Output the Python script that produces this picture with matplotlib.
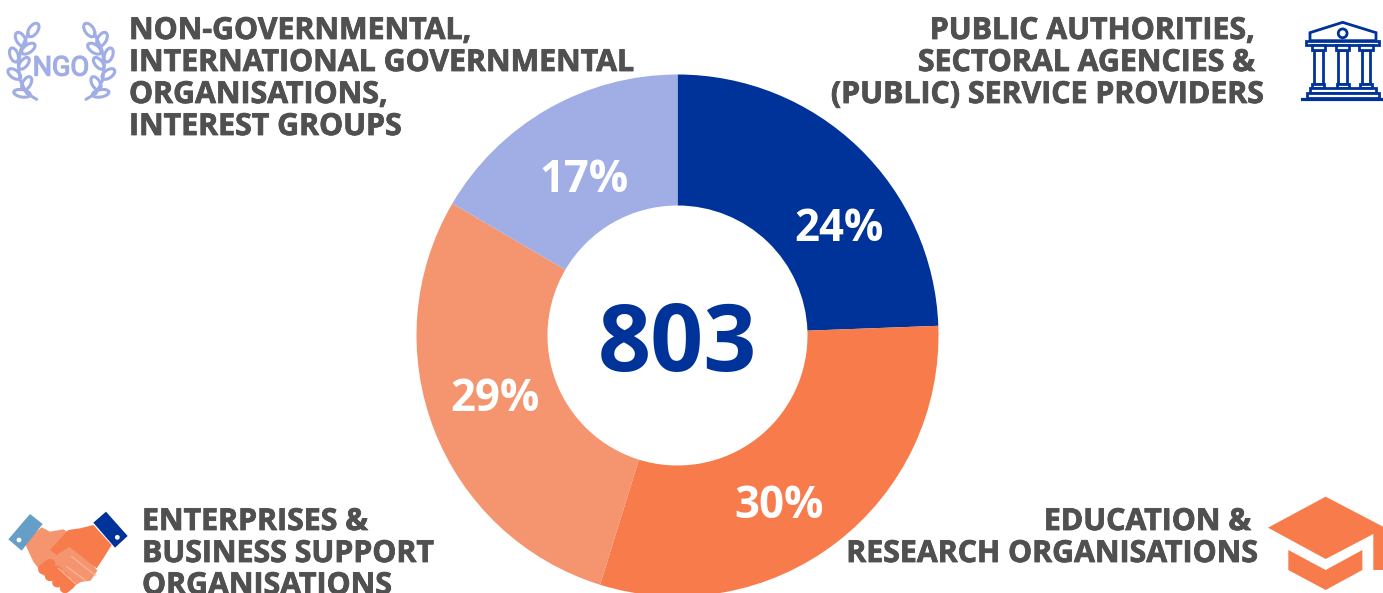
import matplotlib
matplotlib.use("Agg")
import matplotlib.pyplot as plt
import matplotlib.patheffects as pe
from matplotlib.patches import Polygon, Circle, Ellipse

# ---- data ----
slice_names = ["Public authorities", "Education & research", "Enterprises", "NGO"]
slice_values = [196, 244, 230, 133]
slice_labels = ["24%", "30%", "29%", "17%"]
total_label = "803"
colors = ["#003399", "#F77B4B", "#F5956F", "#A0AEE5"]

W, H = 1383, 593
NAVY, ORANGE, LORANGE, PERI = colors
GREY = "#505050"
FONT = "Open Sans"

fig = plt.figure(figsize=(W / 100, H / 100), dpi=100, facecolor="white")

# donut
cx, cy, R = 677.5, 335.5, 261
pie_ax = fig.add_axes([(cx - R) / W, 1 - (cy + R) / H, 2 * R / W, 2 * R / H])
pie_ax.pie(slice_values, colors=colors, startangle=90, counterclock=False, radius=1,
           wedgeprops=dict(width=131 / 261, linewidth=0))
pie_ax.set_xlim(-1, 1)
pie_ax.set_ylim(-1, 1)
pie_ax.axis("off")

# overlay in pixel coordinates
ax = fig.add_axes([0, 0, 1, 1], zorder=5)
ax.set_xlim(0, W)
ax.set_ylim(H, 0)
ax.axis("off")
ax.patch.set_alpha(0)

# centre + percentages
ax.text(677, 335, total_label, ha="center", va="center_baseline", color=NAVY,
        fontsize=67, family=FONT, fontweight="bold")
label_xy = [(839, 224), (779, 501), (495, 394), (584, 175)]
for (x, y), s in zip(label_xy, slice_labels):
    ax.text(x, y, s, ha="center", va="center_baseline", color="white", fontsize=31.5,
            family=FONT, fontweight="bold")

# category text (line, x, baseline, align)
lines = [
    ("NON-GOVERNMENTAL,", 129, 39, "left"),
    ("INTERNATIONAL GOVERNMENTAL", 129, 71, "left"),
    ("ORGANISATIONS,", 129, 103, "left"),
    ("INTEREST GROUPS", 129, 135, "left"),
    ("PUBLIC AUTHORITIES,", 1255, 39, "right"),
    ("SECTORAL AGENCIES &", 1255, 71, "right"),
    ("(PUBLIC) SERVICE PROVIDERS", 1264, 103, "right"),
    ("ENTERPRISES &", 142, 530, "left"),
    ("BUSINESS SUPPORT", 142, 562, "left"),
    ("ORGANISATIONS", 142, 594, "left"),
    ("EDUCATION &", 1251, 530, "right"),
    ("RESEARCH ORGANISATIONS", 1258, 562, "right"),
]
for s, x, y, ha in lines:
    ax.text(x, y, s, ha=ha, va="baseline", color=GREY, fontsize=21.8, family=FONT,
            fontweight="bold",
            path_effects=[pe.withStroke(linewidth=0.6, foreground=GREY)])

# ---- icons ----
def pts(off, seq):
    return [(off[0] + a / 3, off[1] + b / 3) for a, b in seq]

# mortarboard
o = (1260, 490)
ax.add_patch(Polygon(pts(o, [(24, 113), (197, 20), (369, 110), (369, 240), (340, 240), (340, 132), (197, 207)]), fc=ORANGE, lw=0))
ax.add_patch(Polygon(pts(o, [(85, 180), (197, 240), (307, 180), (307, 240), (197, 300), (85, 240)]), fc=ORANGE, lw=0))

# handshake
o = (0, 500)
ax.add_patch(Polygon(pts(o, [(72, 125), (125, 82), (150, 95), (190, 88), (210, 100), (292, 212), (272, 242), (242, 246), (208, 268), (180, 255), (130, 225), (100, 185)]), fc=LORANGE, lw=0))
ax.add_patch(Polygon(pts(o, [(280, 75), (335, 135), (310, 175), (290, 205), (208, 140), (170, 165), (150, 150), (205, 90), (240, 85)]), fc=ORANGE, lw=0))
for seg in [[(130, 208), (150, 192)], [(150, 228), (170, 212)], [(172, 247), (190, 232)], [(195, 264), (210, 252)]]:
    ax.plot(*zip(*pts(o, seg)), color=ORANGE, lw=7.5, solid_capstyle="round")
for seg in [[(215, 170), (285, 225)], [(200, 200), (255, 240)], [(175, 205), (225, 250)]]:
    ax.plot(*zip(*pts(o, seg)), color="#F9B294", lw=1)
ax.add_patch(Polygon(pts(o, [(25, 118), (90, 42), (128, 72), (65, 152)]), fc="#659FC7", lw=0))
ax.add_patch(Polygon(pts(o, [(280, 68), (318, 35), (383, 108), (345, 143)]), fc=NAVY, lw=0))
ax.add_patch(Circle(pts(o, [(57, 120)])[0], 2.4, fc="white", lw=0))
ax.add_patch(Circle(pts(o, [(352, 112)])[0], 2.4, fc="white", lw=0))

# building
o = (1290, 10)
lw = 2.0
def box(x0, y0, x1, y1):
    ax.add_patch(Polygon(pts(o, [(x0, y0), (x1, y0), (x1, y1), (x0, y1)]), fc="white", ec=NAVY, lw=lw))
ax.add_patch(Polygon(pts(o, [(60, 92), (60, 68), (158, 37), (258, 68), (258, 92)]), fc="white", ec=NAVY, lw=lw))
ax.add_patch(Circle(pts(o, [(158, 70)])[0], 4.4, fc="white", ec=NAVY, lw=lw))
box(48, 93, 268, 105)
for c in (85, 158, 228):
    box(c - 13, 120, c + 13, 222)
    box(c - 20, 106, c + 20, 120)
    box(c - 18, 222, c + 18, 235)
box(60, 235, 258, 250)
box(50, 250, 268, 264)
ax.plot(*zip(*pts(o, [(36, 266), (280, 266)])), color=NAVY, lw=lw + 0.3)

# NGO wreath
ax.text(61, 65, "NGO", ha="center", va="center_baseline", color=PERI, fontsize=19.5,
        family=["Liberation Sans Narrow", "Roboto"],
        path_effects=[pe.withStroke(linewidth=1.0, foreground=PERI)])
leaves = [(100, 90, 46, 26, -55), (62, 118, 46, 26, 60), (85, 146, 46, 24, -35),
          (42, 165, 44, 24, 70), (72, 190, 42, 22, -50), (43, 222, 44, 24, 35),
          (80, 250, 44, 24, -60), (66, 280, 50, 22, 10)]
stem = [(110, 298), (80, 280), (60, 240), (55, 195), (62, 150), (85, 100)]
for mirror in (False, True):
    fx = (lambda v: 368 - v) if mirror else (lambda v: v)
    sign = -1 if mirror else 1
    ax.plot([fx(a) / 3 for a, b in stem], [b / 3 for a, b in stem], color=PERI, lw=2.2,
            solid_capstyle="round")
    for x, y, l, t, ang in leaves:
        ax.add_patch(Ellipse((fx(x) / 3, y / 3), l / 3, t / 3, angle=sign * ang,
                             fc="white", ec=PERI, lw=2.2))

fig.savefig("out.png", dpi=100, facecolor="white")
